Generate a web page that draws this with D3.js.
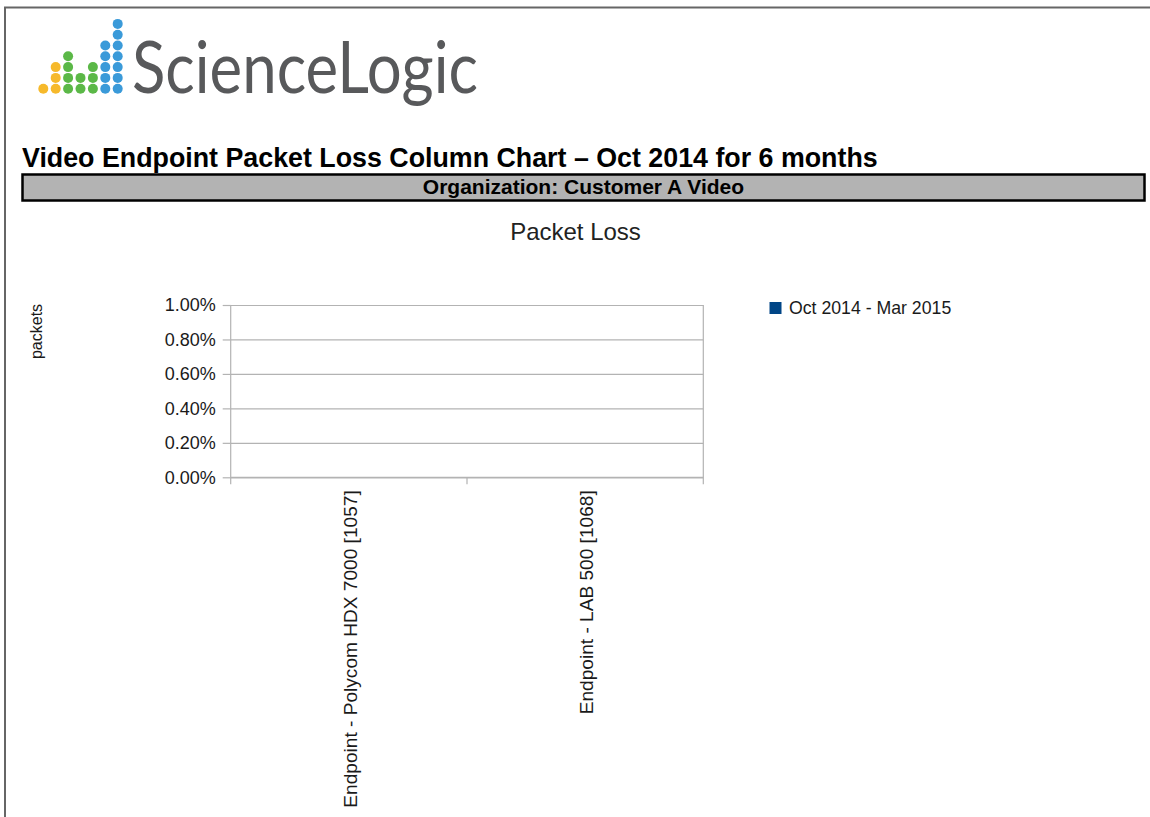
<html>
  <head>
    <style>
      body { margin: 0; background: white; }
      svg text { font-family: "Liberation Sans", Arial, sans-serif; }
      .grid line { stroke: #b3b3b3; stroke-width: 1.2px; }
      .grid path { display: none; }
      .axis path, .axis line { stroke: #b3b3b3; stroke-width: 1.2px; }
    </style>
  </head>
  <body>
    <script src="https://d3js.org/d3.v7.min.js"></script>
    <script>
    // data
    var categories = ["Endpoint - Polycom HDX 7000 [1057]", "Endpoint - LAB 500 [1068]"];
    var seriesName = "Oct 2014 - Mar 2015";
    var packetLoss = [0, 0];
    var yTicks = [0, 0.002, 0.004, 0.006, 0.008, 0.01];

    // logo: dots per column and column colours
    var logoCols = [1, 3, 4, 2, 3, 5, 7];
    var logoColors = ["#f6b92b", "#f6b92b", "#5bb847", "#5bb847", "#5bb847", "#3a9ad9", "#3a9ad9"];

    var width = 1150, height = 817;

    var svg = d3.select("body")
        .append("svg")
        .attr("width", width)
        .attr("height", height);

    // page frame
    svg.append("line").attr("x1", 4).attr("x2", width).attr("y1", 7.5).attr("y2", 7.5)
        .attr("stroke", "#666").attr("stroke-width", 2);
    svg.append("line").attr("x1", 5).attr("x2", 5).attr("y1", 7).attr("y2", height)
        .attr("stroke", "#666").attr("stroke-width", 2);

    // logo dots
    var logo = svg.append("g");
    logoCols.forEach(function(n, i) {
      for (var j = 0; j < n; j++) {
        logo.append("circle")
            .attr("cx", 43.3 + i * 12.4)
            .attr("cy", 88.7 - j * 10.8)
            .attr("r", 5)
            .attr("fill", logoColors[i]);
      }
    });
    logo.append("text")
        .attr("x", 132).attr("y", 93)
        .attr("textLength", 346)
        .attr("lengthAdjust", "spacingAndGlyphs")
        .style("font-family", "Lato, 'Open Sans', sans-serif")
        .style("font-size", "72px")
        .attr("fill", "#58595b")
        .text("ScienceLogic");

    // report title
    svg.append("text")
        .attr("x", 22).attr("y", 167)
        .style("font-size", "26.8px").style("font-weight", "bold")
        .attr("fill", "#000")
        .text("Video Endpoint Packet Loss Column Chart \u2013 Oct 2014 for 6 months");

    // organization bar
    svg.append("rect")
        .attr("x", 22.5).attr("y", 174.5).attr("width", 1122).attr("height", 26)
        .attr("fill", "#b3b3b3").attr("stroke", "#000").attr("stroke-width", 2.5);
    svg.append("text")
        .attr("x", 583.5).attr("y", 194)
        .attr("text-anchor", "middle")
        .style("font-size", "21px").style("font-weight", "bold")
        .text("Organization: Customer A Video");

    // chart title
    svg.append("text")
        .attr("x", 575.5).attr("y", 240)
        .attr("text-anchor", "middle")
        .style("font-size", "24px")
        .attr("fill", "#222")
        .text("Packet Loss");

    var plot = { left: 230.7, right: 703.3, top: 305, bottom: 477.3 };

    var x = d3.scaleBand()
        .domain(categories)
        .range([plot.left, plot.right])
        .paddingInner(0.4).paddingOuter(0.2);

    var xCat = d3.scaleBand()
        .domain(categories)
        .range([plot.left, plot.right]);

    var y = d3.scaleLinear()
        .domain([0, 0.01])
        .range([plot.bottom, plot.top]);

    // gridlines
    svg.append("g")
        .attr("class", "grid")
        .attr("transform", "translate(" + plot.left + ",0)")
        .call(d3.axisLeft(y).tickValues(yTicks).tickSize(-(plot.right - plot.left)).tickFormat(""));

    // y axis
    var yAxis = svg.append("g")
        .attr("class", "axis")
        .attr("transform", "translate(" + plot.left + ",0)")
        .call(d3.axisLeft(y).tickValues(yTicks).tickSize(8).tickSizeOuter(0).tickPadding(7).tickFormat(d3.format(".2%")));
    yAxis.select(".domain").remove();
    yAxis.selectAll("text")
        .style("font-size", "18px")
        .attr("fill", "#1a1a1a");

    // plot frame
    svg.append("line").attr("x1", plot.left).attr("x2", plot.left)
        .attr("y1", plot.top).attr("y2", plot.bottom + 7)
        .attr("stroke", "#b3b3b3").attr("stroke-width", 1.2);
    svg.append("line").attr("x1", plot.right).attr("x2", plot.right)
        .attr("y1", plot.top).attr("y2", plot.bottom + 7)
        .attr("stroke", "#b3b3b3").attr("stroke-width", 1.2);
    svg.append("line").attr("x1", plot.left).attr("x2", plot.right)
        .attr("y1", plot.bottom).attr("y2", plot.bottom)
        .attr("stroke", "#b3b3b3").attr("stroke-width", 1.2);

    // x ticks at category boundaries
    svg.append("g").selectAll("line")
        .data(categories.slice(1))
        .enter().append("line")
        .attr("x1", function(d) { return xCat(d); })
        .attr("x2", function(d) { return xCat(d); })
        .attr("y1", plot.bottom).attr("y2", plot.bottom + 7)
        .attr("stroke", "#b3b3b3").attr("stroke-width", 1.2);

    // bars (all zero)
    svg.append("g").selectAll("rect")
        .data(packetLoss)
        .enter().append("rect")
        .attr("x", function(d, i) { return x(categories[i]); })
        .attr("width", x.bandwidth())
        .attr("y", function(d) { return y(d); })
        .attr("height", function(d) { return y(0) - y(d); })
        .attr("fill", "#004586");

    // category labels
    svg.append("g").selectAll("text")
        .data(categories)
        .enter().append("text")
        .attr("transform", function(d) {
          return "translate(" + (xCat(d) + xCat.bandwidth() / 2 + 1) + "," + (plot.bottom + 13) + ") rotate(-90)";
        })
        .attr("dy", "0.35em")
        .attr("text-anchor", "end")
        .style("font-size", "19.1px")
        .attr("fill", "#1a1a1a")
        .text(function(d) { return d; });

    // y axis title
    svg.append("text")
        .attr("transform", "translate(36.7,331.5) rotate(-90)")
        .attr("dy", "0.35em")
        .attr("text-anchor", "middle")
        .style("font-size", "16px")
        .attr("fill", "#1a1a1a")
        .text("packets");

    // legend
    svg.append("rect")
        .attr("x", 769.5).attr("y", 302).attr("width", 12).attr("height", 12)
        .attr("fill", "#004586");
    svg.append("text")
        .attr("x", 789).attr("y", 314)
        .style("font-size", "17.7px")
        .attr("fill", "#1a1a1a")
        .text(seriesName);
    </script>
  </body>
</html>
